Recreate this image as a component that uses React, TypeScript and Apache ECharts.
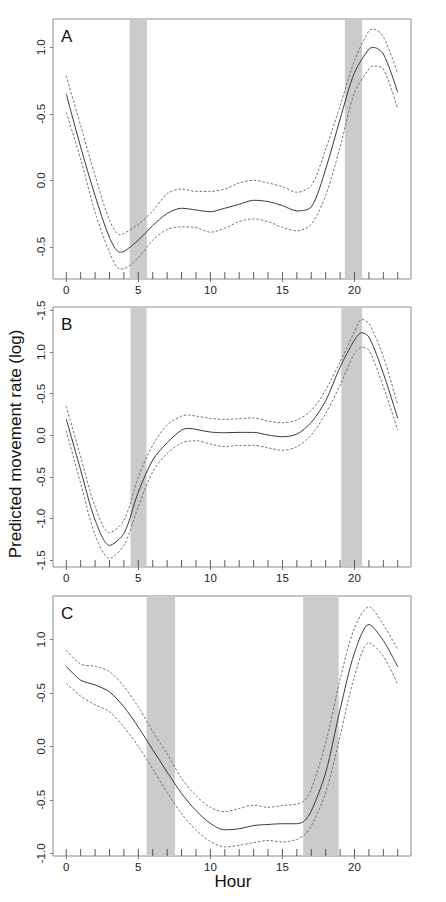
import { useEffect, useRef } from "react";
import * as echarts from "echarts";

// hour of day for the rug at the bottom of each panel
const rugHours = [0, 1, 2, 3, 4, 5, 6, 7, 8, 9, 10, 11, 12, 13, 14, 15, 16, 17, 18, 19, 20, 21, 22, 23];

// panel A
const aHours = [0, 1, 2, 3, 3.7, 4, 5, 6, 7, 8, 9, 10, 11, 12, 13, 14, 15, 16, 17, 18, 19, 20, 21, 21.3, 22, 23];
const aFit = [0.65, 0.25, -0.115, -0.43, -0.54, -0.535, -0.45, -0.34, -0.25, -0.21, -0.223, -0.236, -0.21, -0.18, -0.15, -0.16, -0.19, -0.23, -0.2, 0.085, 0.46, 0.81, 0.987, 1.0, 0.95, 0.66];
const aUpper = [0.787, 0.41, 0.035, -0.3, -0.41, -0.4, -0.33, -0.23, -0.1, -0.066, -0.083, -0.083, -0.066, -0.02, 0.0, -0.02, -0.048, -0.09, -0.04, 0.235, 0.56, 0.9, 1.125, 1.137, 1.08, 0.8];
const aLower = [0.51, 0.16, -0.24, -0.54, -0.667, -0.665, -0.58, -0.45, -0.37, -0.35, -0.355, -0.39, -0.36, -0.31, -0.29, -0.31, -0.354, -0.38, -0.33, -0.115, 0.25, 0.66, 0.837, 0.86, 0.837, 0.536];
const aBands = [[4.4, 5.6], [19.33, 20.53]];
const aTicks = [-0.5, 0, 0.5, 1];
const aTickLabels = ["-0.5", "0.0", "-0.5", "1.0"];

// panel B
const bHours = [0, 1, 2, 3, 4, 5, 6, 7, 8, 8.5, 9, 10, 11, 12, 13, 14, 15, 16, 17, 18, 19, 20, 20.5, 21, 22, 23];
const bFit = [0.196, -0.416, -1.016, -1.32, -1.176, -0.68, -0.296, -0.088, 0.064, 0.084, 0.072, 0.04, 0.032, 0.036, 0.036, 0.004, -0.016, 0.016, 0.156, 0.416, 0.82, 1.145, 1.233, 1.18, 0.745, 0.204];
const bUpper = [0.35, -0.256, -0.856, -1.17, -1.02, -0.5, -0.116, 0.124, 0.232, 0.244, 0.232, 0.204, 0.192, 0.2, 0.21, 0.17, 0.152, 0.184, 0.3, 0.544, 0.884, 1.244, 1.392, 1.344, 0.944, 0.364];
const bLower = [0.056, -0.576, -1.196, -1.476, -1.32, -0.856, -0.436, -0.216, -0.088, -0.07, -0.064, -0.104, -0.136, -0.12, -0.12, -0.15, -0.18, -0.136, 0.004, 0.264, 0.604, 0.984, 1.056, 1.024, 0.584, 0.064];
const bBands = [[4.46, 5.57], [19.08, 20.53]];
const bTicks = [-1.5, -1, -0.5, 0, 0.5, 1, 1.5];
const bTickLabels = ["-1.5", "-1.0", "-0.5", "0.0", "-0.5", "1.0", "-1.5"];

// panel C
const cHours = [0, 1, 2, 3, 4, 5, 6, 7, 8, 9, 10, 11, 12, 13, 14, 15, 16, 16.5, 17, 18, 19, 20, 21, 22, 23];
const cFit = [0.75, 0.62, 0.575, 0.51, 0.37, 0.18, -0.03, -0.24, -0.44, -0.6, -0.72, -0.78, -0.77, -0.74, -0.73, -0.723, -0.723, -0.7, -0.605, -0.246, 0.345, 0.875, 1.14, 0.99, 0.744];
const cUpper = [0.9, 0.77, 0.75, 0.7, 0.56, 0.37, 0.14, -0.07, -0.3, -0.46, -0.57, -0.61, -0.58, -0.55, -0.57, -0.552, -0.54, -0.51, -0.4, 0.034, 0.626, 1.108, 1.305, 1.14, 0.906];
const cLower = [0.59, 0.47, 0.39, 0.325, 0.18, 0.0, -0.21, -0.43, -0.63, -0.78, -0.89, -0.94, -0.925, -0.9, -0.88, -0.894, -0.87, -0.83, -0.745, -0.433, 0.096, 0.657, 0.97, 0.844, 0.58];
const cBands = [[5.57, 7.55], [16.44, 18.9]];
const cTicks = [-1, -0.5, 0, 0.5, 1];
const cTickLabels = ["-1.0", "-0.5", "0.0", "-0.5", "1.0"];

const xLabelValues = [0, 5, 10, 15, 20];

const FONT = "'Liberation Sans', Arial, sans-serif";

const panels = [
  { letter: "A", hours: aHours, fit: aFit, upper: aUpper, lower: aLower, bands: aBands, ticks: aTicks, labels: aTickLabels, top: 19, yMin: -0.742, yMax: 1.213 },
  { letter: "B", hours: bHours, fit: bFit, upper: bUpper, lower: bLower, bands: bBands, ticks: bTicks, labels: bTickLabels, top: 307, yMin: -1.58, yMax: 1.541 },
  { letter: "C", hours: cHours, fit: cFit, upper: cUpper, lower: cLower, bands: cBands, ticks: cTicks, labels: cTickLabels, top: 596, yMin: -1.025, yMax: 1.407 },
];

function buildOption(): echarts.EChartsOption {
  const grid: any[] = [];
  const xAxis: any[] = [];
  const yAxis: any[] = [];
  const series: any[] = [];
  const graphic: any[] = [];

  panels.forEach((p, i) => {
    grid.push({
      left: 53,
      top: p.top,
      width: 358,
      height: 260,
      show: true,
      borderColor: "#8a8a8a",
      borderWidth: 1,
      backgroundColor: "transparent",
    });

    xAxis.push({
      type: "value",
      gridIndex: i,
      min: -0.92,
      max: 23.92,
      axisLine: { show: false, onZero: false },
      splitLine: { show: false },
      axisTick: { show: true, customValues: xLabelValues, length: 3, lineStyle: { color: "#777" } },
      axisLabel: {
        customValues: xLabelValues,
        margin: 5,
        color: "#222",
        fontSize: 11.5,
        fontFamily: FONT,
      },
    });

    yAxis.push({
      type: "value",
      gridIndex: i,
      min: p.yMin,
      max: p.yMax,
      axisLine: { show: false, onZero: false },
      splitLine: { show: false },
      axisTick: { show: true, customValues: p.ticks, length: 3, lineStyle: { color: "#777" } },
      axisLabel: {
        customValues: p.ticks,
        rotate: 90,
        margin: 6,
        color: "#222",
        fontSize: 11.5,
        fontFamily: FONT,
        formatter: (v: number) => {
          const k = p.ticks.findIndex((t) => Math.abs(t - v) < 1e-6);
          return k >= 0 ? p.labels[k] : "";
        },
      },
    });

    // shaded twilight bands
    series.push({
      type: "line",
      xAxisIndex: i,
      yAxisIndex: i,
      data: [],
      z: 1,
      silent: true,
      markArea: {
        silent: true,
        itemStyle: { color: "#cbcbcb" },
        data: p.bands.map((b) => [{ xAxis: b[0] }, { xAxis: b[1] }]),
      },
    });

    // rug marks at each hour
    series.push({
      type: "scatter",
      xAxisIndex: i,
      yAxisIndex: i,
      data: rugHours.map((h) => [h, p.yMin]),
      symbol: "rect",
      symbolSize: [1, 7],
      symbolOffset: [0, "-50%"],
      itemStyle: { color: "#333" },
      clip: false,
      silent: true,
      z: 2,
    });

    series.push({
      type: "line",
      xAxisIndex: i,
      yAxisIndex: i,
      data: p.hours.map((h, k) => [h, p.fit[k]]),
      smooth: 0.3,
      showSymbol: false,
      z: 3,
      lineStyle: { color: "#3a3a3a", width: 1 },
    });
    [p.upper, p.lower].forEach((band) => {
      series.push({
        type: "line",
        xAxisIndex: i,
        yAxisIndex: i,
        data: p.hours.map((h, k) => [h, band[k]]),
        smooth: 0.3,
        showSymbol: false,
        z: 3,
        lineStyle: { color: "#666", width: 0.9, type: [2.5, 1.8] },
      });
    });

    graphic.push({
      type: "text",
      left: 61,
      top: p.top + 9,
      style: { text: p.letter, fontSize: 17, fontFamily: FONT, fill: "#111" },
    });
  });

  graphic.push({
    type: "text",
    x: 15,
    y: 444,
    rotation: Math.PI / 2,
    style: {
      text: "Predicted movement rate (log)",
      fontSize: 17,
      fontFamily: FONT,
      fill: "#111",
      align: "center",
      verticalAlign: "middle",
    },
  });
  graphic.push({
    type: "text",
    x: 233,
    y: 881,
    style: {
      text: "Hour",
      fontSize: 17,
      fontFamily: FONT,
      fill: "#111",
      align: "center",
      verticalAlign: "middle",
    },
  });

  return {
    animation: false,
    backgroundColor: "#fff",
    grid,
    xAxis,
    yAxis,
    series,
    graphic,
  };
}

export default function App() {
  const chartRef = useRef<HTMLDivElement>(null);

  useEffect(() => {
    if (!chartRef.current) return;
    const chart = echarts.init(chartRef.current, undefined, { renderer: "svg" });
    chart.setOption(buildOption());
    return () => chart.dispose();
  }, []);

  return (
    <div
      ref={chartRef}
      style={{ position: "fixed", left: 0, top: 0, width: 446, height: 902 }}
    />
  );
}
